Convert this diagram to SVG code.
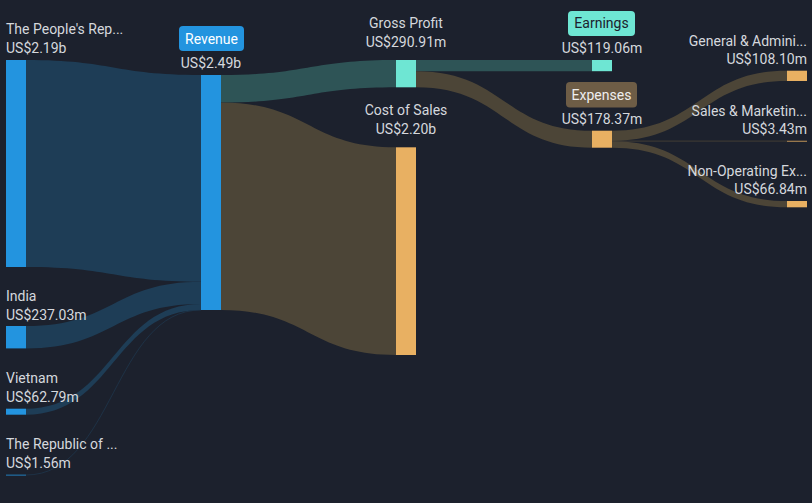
<svg xmlns="http://www.w3.org/2000/svg" width="812" height="503" viewBox="0 0 812 503">
<style>
text{font-family:Roboto,"Liberation Sans",sans-serif;font-size:14px;fill:#d5d8dd}
.m{text-anchor:middle}
.e{text-anchor:end}
.blue{fill:#2394df}
.teal{fill:#6ee6d3}
.org{fill:#e8b062}
.fb{fill:#1e3d56}
.ft{fill:#2e5456}
.fw{fill:#4c4537}
</style>
<rect width="812" height="503" fill="#1c212d"/>
<g id="connectors">
<path class="fb" d="M26,60 C113.5,60 113.5,75 201,75 L201,281.7 C113.5,281.7 113.5,267 26,267 Z"/>
<path class="fb" d="M26,326 C113.5,326 113.5,281.7 201,281.7 L201,304 C113.5,304 113.5,348.4 26,348.4 Z"/>
<path class="fb" d="M26,408.7 C113.5,408.7 113.5,304 201,304 L201,310 C113.5,310 113.5,414.7 26,414.7 Z"/>
<path d="M26,475 C113.5,475 113.5,310 201,310" fill="none" stroke="#1e3d56" stroke-width="0.6"/>
<path class="ft" d="M221,75 C308.5,75 308.5,60 396,60 L396,87.3 C308.5,87.3 308.5,102.5 221,102.5 Z"/>
<path class="fw" d="M221,102.5 C308.5,102.5 308.5,147.3 396,147.3 L396,355 C308.5,355 308.5,310 221,310 Z"/>
<path class="ft" d="M416,60 L592,60 L592,71.2 L416,71.2 Z"/>
<path class="fw" d="M416,71.2 C504,71.2 504,130.7 592,130.7 L592,147.7 C504,147.7 504,87.3 416,87.3 Z"/>
<path class="fw" d="M612,130.7 C699.5,130.7 699.5,70.7 787,70.7 L787,81 C699.5,81 699.5,140.9 612,140.9 Z"/>
<path d="M612,141.1 L787,141.1" fill="none" stroke="#4c4537" stroke-width="0.8"/>
<path class="fw" d="M612,141.3 C699.5,141.3 699.5,201 787,201 L787,207.3 C699.5,207.3 699.5,147.7 612,147.7 Z"/>
</g>
<g id="node-peoples">
<rect class="blue" x="6" y="60" width="20" height="207"/>
<text x="6" y="34">The People's Rep...</text>
<text x="6" y="53">US$2.19b</text>
</g>
<g id="node-india">
<rect class="blue" x="6" y="326" width="20" height="22.4"/>
<text x="6" y="301">India</text>
<text x="6" y="320">US$237.03m</text>
</g>
<g id="node-vietnam">
<rect class="blue" x="6" y="408.7" width="20" height="6"/>
<text x="6" y="383">Vietnam</text>
<text x="6" y="402">US$62.79m</text>
</g>
<g id="node-republic">
<rect class="blue" x="6" y="474.7" width="20" height="0.8"/>
<text x="6" y="449">The Republic of ...</text>
<text x="6" y="468">US$1.56m</text>
</g>
<g id="node-revenue">
<rect class="blue" x="201" y="75" width="20" height="235"/>
<rect x="179" y="26" width="65" height="25" rx="4" fill="#2394df"/>
<text class="m" x="211.5" y="44" style="fill:#ffffff">Revenue</text>
<text class="m" x="211" y="68">US$2.49b</text>
</g>
<g id="node-gross-profit">
<rect class="teal" x="396" y="60" width="20" height="27.3"/>
<text class="m" x="406" y="28">Gross Profit</text>
<text class="m" x="406" y="47">US$290.91m</text>
</g>
<g id="node-cost-of-sales">
<rect class="org" x="396" y="147.3" width="20" height="207.7"/>
<text class="m" x="406" y="115">Cost of Sales</text>
<text class="m" x="406" y="134">US$2.20b</text>
</g>
<g id="node-earnings">
<rect class="teal" x="592" y="60" width="20" height="11.2"/>
<rect x="568" y="11" width="67" height="25" rx="4" fill="#6ee6d3"/>
<text class="m" x="601.5" y="28" style="fill:#1c212d">Earnings</text>
<text class="m" x="602" y="53">US$119.06m</text>
</g>
<g id="node-expenses">
<rect class="org" x="592" y="130.7" width="20" height="17"/>
<rect x="566" y="82" width="71" height="25.5" rx="4" fill="#6e5d46"/>
<text class="m" x="601.5" y="100" style="fill:#eeeeee">Expenses</text>
<text class="m" x="602" y="124">US$178.37m</text>
</g>
<g id="node-ga">
<rect class="org" x="787" y="70.7" width="20" height="10.3"/>
<text class="e" x="807" y="46">General &amp; Admini...</text>
<text class="e" x="807" y="64">US$108.10m</text>
</g>
<g id="node-sm">
<rect class="org" x="787" y="140.8" width="20" height="0.8"/>
<text class="e" x="807" y="116">Sales &amp; Marketin...</text>
<text class="e" x="807" y="134">US$3.43m</text>
</g>
<g id="node-nonop">
<rect class="org" x="787" y="201" width="20" height="6.3"/>
<text class="e" x="807" y="176">Non-Operating Ex...</text>
<text class="e" x="807" y="194">US$66.84m</text>
</g>
</svg>
